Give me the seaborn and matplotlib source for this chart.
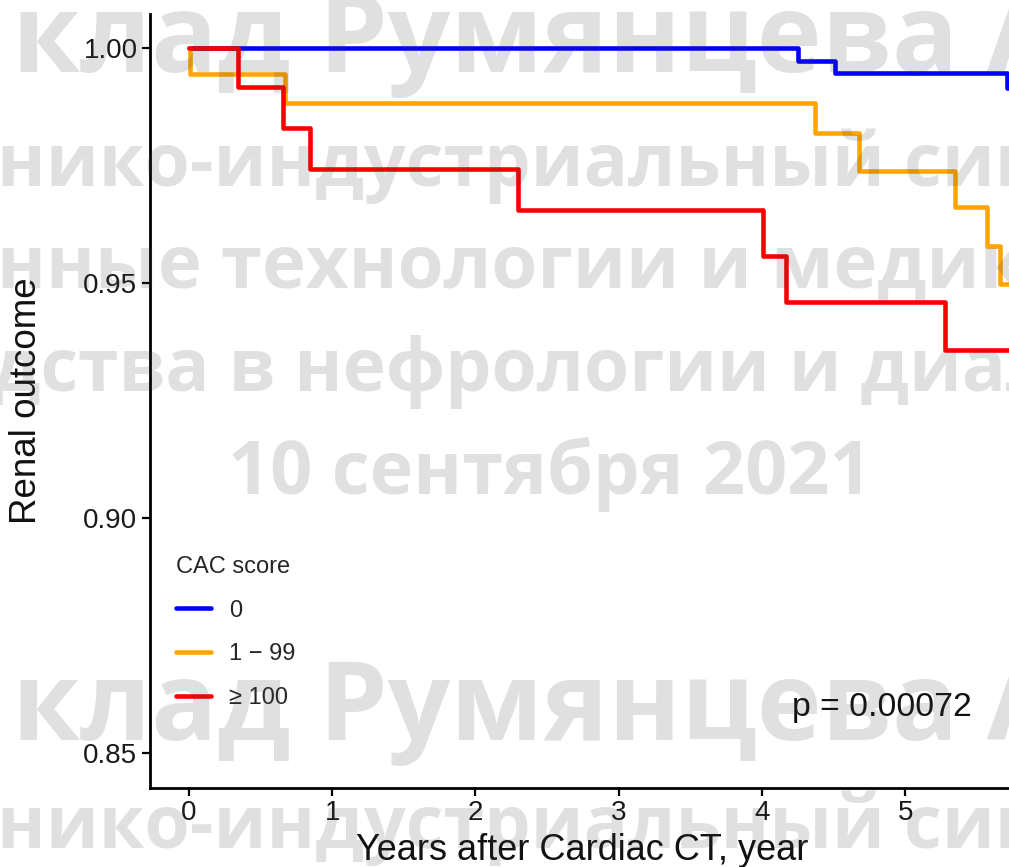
import numpy as np
import pandas as pd
import matplotlib
matplotlib.use("Agg")
import matplotlib.pyplot as plt
import seaborn as sns

# Kaplan-Meier step curves by coronary artery calcium group
groups = ["0", "1 − 99", "≥ 100"]
palette = ["#0000FF", "#FFA500", "#FF0000"]

time_0 = [0.0, 4.25, 4.51, 5.71, 5.76]
surv_0 = [1.0, 0.9972, 0.9947, 0.9915, 0.9915]

time_1 = [0.0, 0.005, 0.67, 4.37, 4.68, 5.35, 5.57, 5.66, 5.76]
surv_1 = [1.0, 0.9945, 0.9883, 0.9818, 0.9738, 0.9661, 0.9578, 0.9497, 0.9497]

time_2 = [0.0, 0.34, 0.66, 0.845, 2.30, 4.01, 4.17, 5.28, 5.76]
surv_2 = [1.0, 0.9917, 0.9830, 0.9743, 0.9655, 0.9557, 0.9460, 0.9357, 0.9357]

x_ticks = [0, 1, 2, 3, 4, 5]
y_ticks = [0.85, 0.90, 0.95, 1.00]
y_tick_labels = ["0.85", "0.90", "0.95", "1.00"]
p_label = "p = 0.00072"
legend_title = "CAC score"
x_title = "Years after Cardiac CT, year"
y_title = "Renal outcome"

# Conference overlay lines
overlay_lines = [
    ("клад Румянцева А.Ш.", "клад Румянцева"),
    ("нико-индустриальный симпозиум", "нико-индустриальный"),
    ("нные технологии и медикаменты", "нные технологии и"),
    ("дства в нефрологии и диализе", "дства в нефрологии и"),
    ("10 сентября 2021", "10 сентября 2021"),
    ("клад Румянцева А.Ш.", "клад Румянцева"),
    ("нико-индустриальный симпозиум", "нико-индустриальный"),
]
# left x (px), baseline y (px), fitted width (px) of the fit part
overlay_layout = [
    (12, 72, 946),
    (-3, 186, 888),
    (-3, 288, 755),
    (-8, 391, 850),
    (228, 494, 644),
    (12, 740, 946),
    (-3, 848, 888),
]

frames = []
for g, t, s in zip(groups, [time_0, time_1, time_2], [surv_0, surv_1, surv_2]):
    frames.append(pd.DataFrame({"time": t, "surv": s, "group": g}))
df = pd.concat(frames, ignore_index=True)

sns.set_style("ticks")
plt.rcParams["font.family"] = ["Liberation Sans", "DejaVu Sans"]

W, H = 1009, 867
fig = plt.figure(figsize=(W / 100, H / 100), dpi=100)
ax_left, ax_right = 150 / W, 1014 / W
ax_bottom, ax_top = 1 - 788 / H, 1 - 14 / H
ax = fig.add_axes([ax_left, ax_bottom, ax_right - ax_left, ax_top - ax_bottom])

sns.lineplot(data=df, x="time", y="surv", hue="group", hue_order=groups,
             palette=palette, drawstyle="steps-post", estimator=None,
             sort=False, linewidth=3.3, ax=ax)

ax.set_xlim(-0.272, 5.76)
ax.set_ylim(0.8426, 1.0072)
ax.set_xticks(x_ticks)
ax.set_xticklabels([str(v) for v in x_ticks])
ax.set_yticks(y_ticks)
ax.set_yticklabels(y_tick_labels)
ax.tick_params(axis="both", labelsize=20, length=6, width=1.6,
               color="black", labelcolor="#1a1a1a", pad=3)
for side in ["top", "right"]:
    ax.spines[side].set_visible(False)
for side in ["left", "bottom"]:
    ax.spines[side].set_linewidth(2.0)
    ax.spines[side].set_color("black")

ax.set_xlabel(x_title, fontsize=26, color="#111111")
ax.set_ylabel(y_title, fontsize=26.5, color="#111111")
ax.xaxis.set_label_coords(0.5, -(833 - 788) / 774)
ax.yaxis.set_label_coords((44 - 150) / 864, 0.5)

ax.text(4.21, 0.8598, p_label, fontsize=24.3, ha="left", va="center",
        color="#111111")

leg = ax.get_legend()
handles = leg.legend_handles
labels = [t.get_text() for t in leg.get_texts()]
leg.remove()
for hnd in handles:
    hnd.set_linewidth(3.3)
ax.legend(handles, labels, title=legend_title, loc="upper left",
          bbox_to_anchor=(176 / W, 1 - 556 / H), bbox_transform=fig.transFigure,
          frameon=False, fontsize=17, title_fontsize=17, alignment="left",
          handlelength=1.5, handletextpad=0.75, labelspacing=0.92,
          borderpad=0, borderaxespad=0)

# Semi-transparent conference overlay text
renderer = fig.canvas.get_renderer()
for (full, part), (x0, base, width) in zip(overlay_lines, overlay_layout):
    probe = fig.text(0, 0, part, fontsize=50, family="Open Sans", weight="bold")
    w = probe.get_window_extent(renderer=renderer).width
    probe.remove()
    fs = 50 * width / w
    fig.text(x0 / W, 1 - base / H, full, fontsize=fs, family="Open Sans",
             weight="bold", ha="left", va="baseline",
             color=(0.25, 0.25, 0.25, 0.16), zorder=10)

fig.savefig("out.png", dpi=100)
